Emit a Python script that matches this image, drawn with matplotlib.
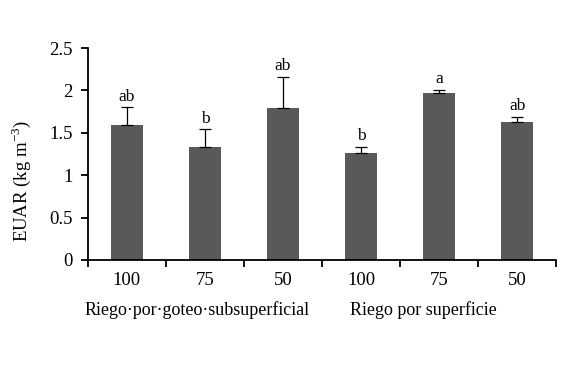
import matplotlib
matplotlib.use("Agg")
import matplotlib.pyplot as plt
import numpy as np

categories = ["100", "75", "50", "100", "75", "50"]
groups = ["Riego\u00b7por\u00b7goteo\u00b7subsuperficial", "Riego por superficie"]
values = [1.59, 1.33, 1.79, 1.26, 1.97, 1.63]
errors = [0.21, 0.21, 0.37, 0.07, 0.04, 0.06]
letters = ["ab", "b", "ab", "b", "a", "ab"]

plt.rcParams['font.family'] = ['Liberation Serif', 'DejaVu Serif']

fig = plt.figure(figsize=(5.86, 3.67), dpi=100)
ax = fig.add_axes([0.150, 0.2916, 0.799, 0.5776])

x = np.arange(len(values))
ax.bar(x, values, width=0.41, color="#595959", zorder=2)
ax.errorbar(x, values, yerr=[np.zeros(len(errors)), errors], fmt="none",
            ecolor="black", elinewidth=0.9, capsize=4, capthick=0.9, zorder=3)
for xi, v, e, l in zip(x, values, errors, letters):
    ax.annotate(l, (xi, v + e), xytext=(0, 2), textcoords="offset points",
                ha="center", va="bottom", fontsize=12.5)

ax.set_xlim(-0.5, len(values) - 0.5)
ax.set_ylim(0, 2.5)
ax.set_yticks([0, 0.5, 1, 1.5, 2, 2.5])
ax.set_yticklabels(["0", "0.5", "1", "1.5", "2", "2.5"], fontsize=13.5)
ax.set_xticks(np.arange(-0.5, len(values), 1.0))
ax.set_xticklabels([])
ax.set_xticks(x, minor=True)
ax.set_xticklabels(categories, minor=True, fontsize=13.5)
ax.tick_params(axis="x", which="minor", length=0, pad=9)
ax.tick_params(axis="x", which="major", direction="out", length=5, width=1.3)
ax.tick_params(axis="y", direction="out", length=5, width=1.3, pad=6)

for s in ["top", "right"]:
    ax.spines[s].set_visible(False)
for s in ["left", "bottom"]:
    ax.spines[s].set_linewidth(1.3)

fig.text(21 / 586, 1 - 181 / 367, "EUAR (kg m$^{\\mathregular{-3}}$)", rotation=90,
         ha="center", va="center", fontsize=13.5)

fig.text(85 / 586, 1 - 310 / 367, groups[0], ha="left", va="center", fontsize=13)
fig.text(350 / 586, 1 - 310 / 367, groups[1], ha="left", va="center", fontsize=13)

fig.savefig("out.png", dpi=100)
